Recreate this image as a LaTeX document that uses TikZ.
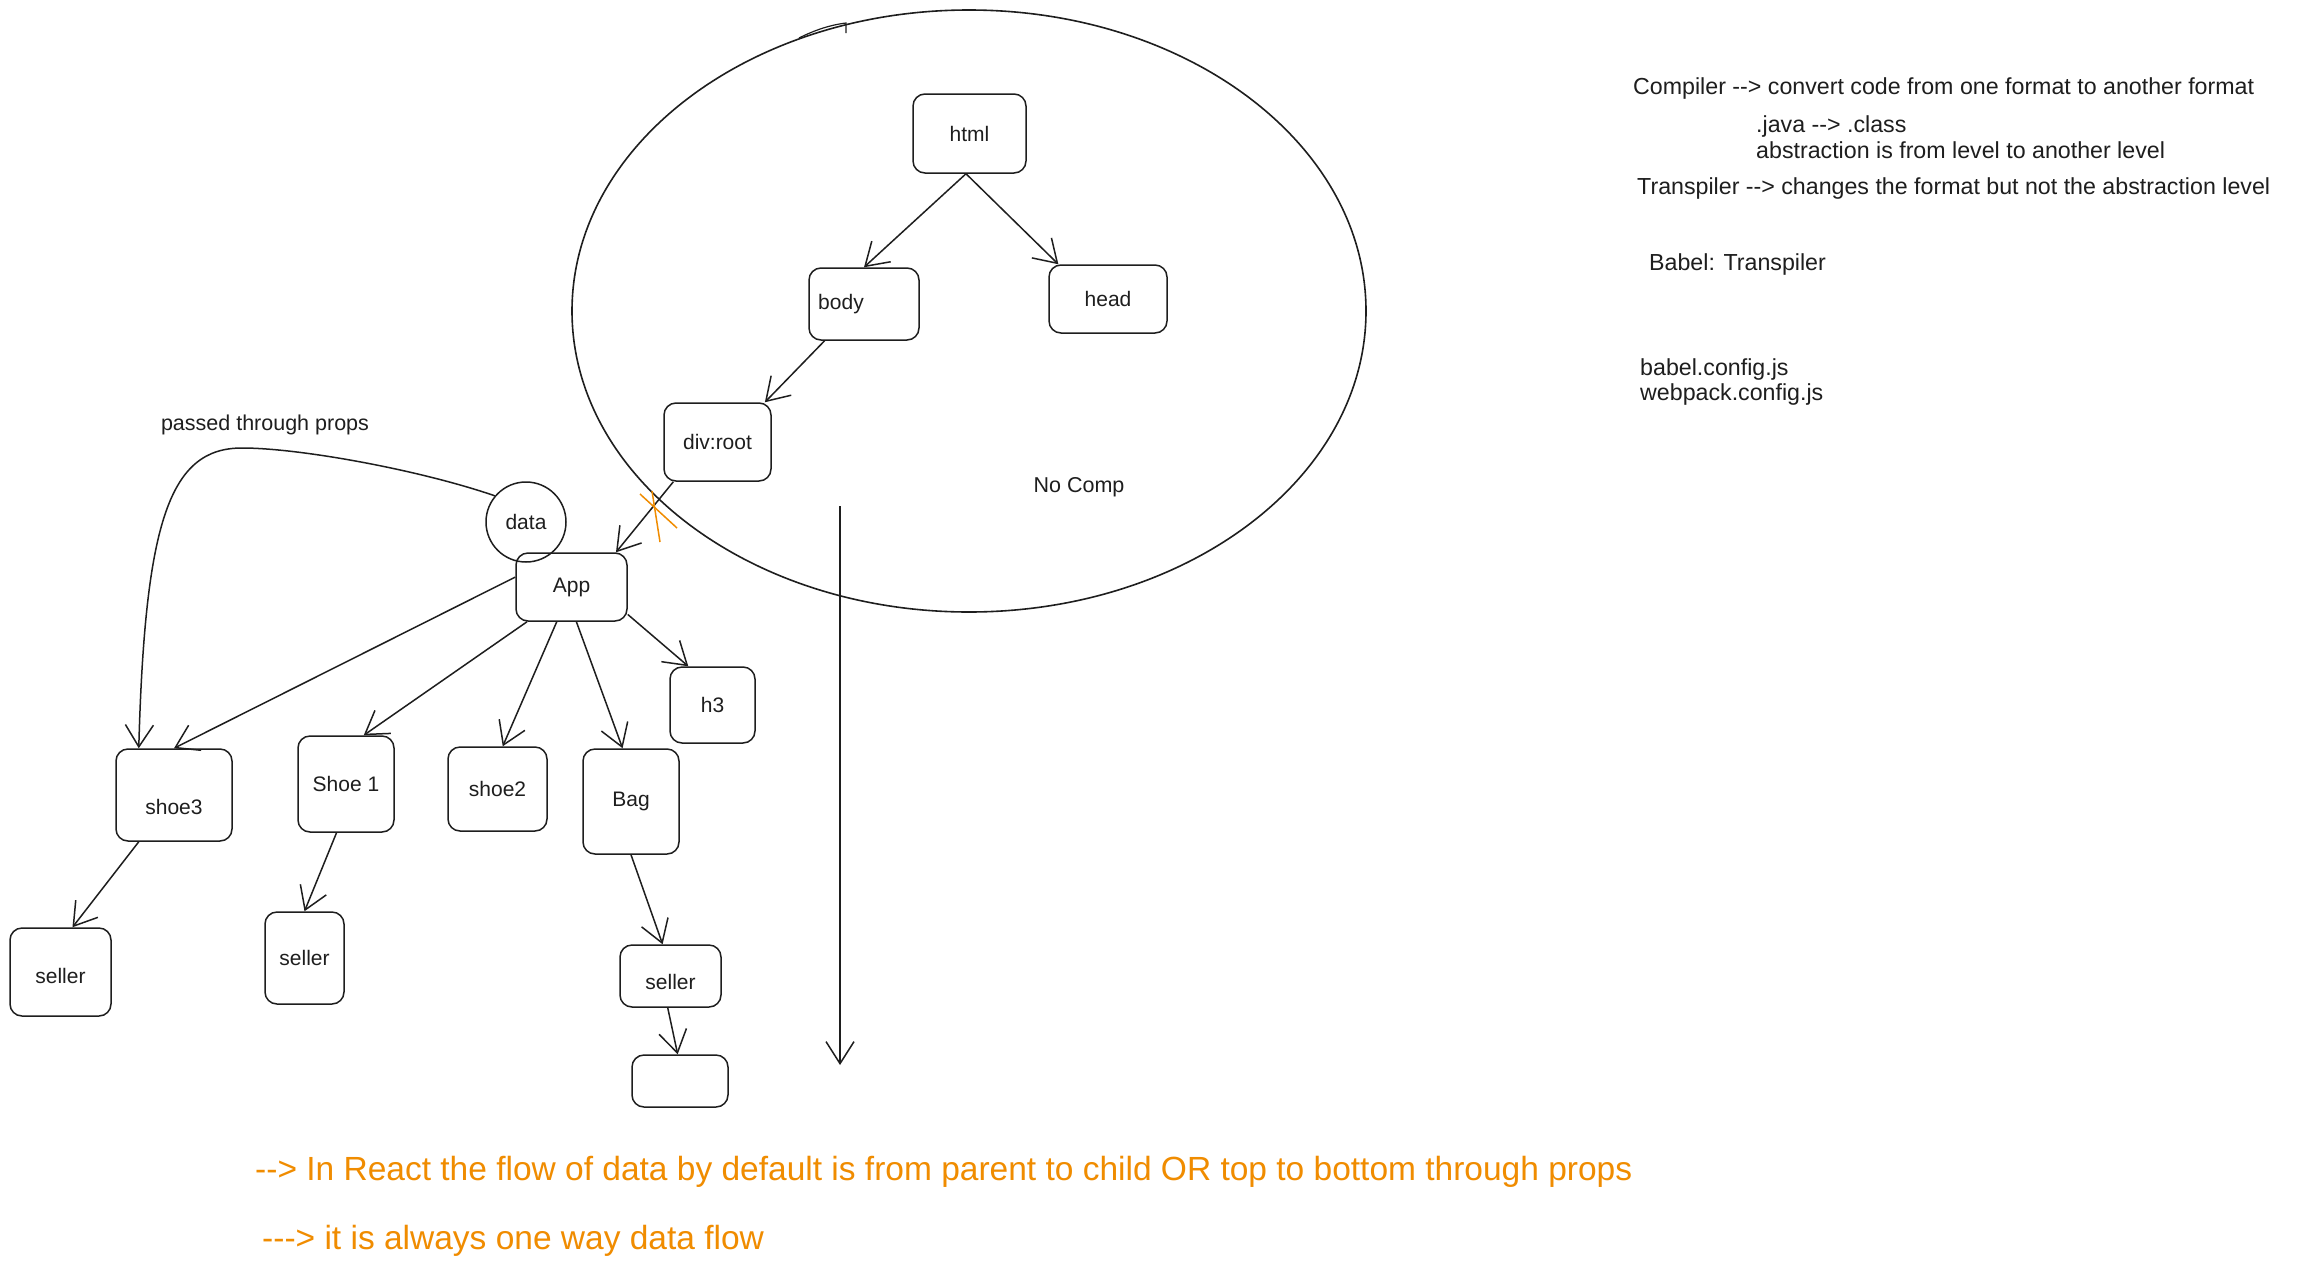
\documentclass[tikz,border=0pt]{standalone}
\usepackage{fontspec}
\setmainfont{Liberation Sans}
\usetikzlibrary{arrows.meta,calc}
\definecolor{ink}{HTML}{1E1E1E}
\definecolor{excorange}{HTML}{F08C00}
\newcommand{\dd}{-{}-{}>}
\newcommand{\ddd}{-{}-{}-{}>}
\begin{document}
\begin{tikzpicture}[x=1pt,y=-1pt,
 box/.style={draw=ink,line width=1.5pt,rounded corners=12pt,font=\fontsize{21}{25}\selectfont,text=ink,inner sep=0pt},
 ring/.style={draw=ink,line width=1.5pt,circle,font=\fontsize{21}{25}\selectfont,text=ink,inner sep=0pt},
 arr/.style={draw=ink,line width=1.5pt,-{Straight Barb[length=22pt,width=28pt,line width=1.5pt]}},
 note/.style={anchor=west,inner sep=0pt,text=ink,font=\fontsize{23.2}{27}\selectfont},
 lbl/.style={inner sep=0pt,text=ink,font=\fontsize{21.5}{25}\selectfont},
 flow/.style={anchor=west,inner sep=0pt,text=excorange,font=\fontsize{33.5}{38}\selectfont},
 cross/.style={draw=excorange,line width=1.5pt}]
\fill[white] (0,0) rectangle (2298,1269);
\useasboundingbox (0,0) rectangle (2298,1269);

% big ellipse
\draw[ink,line width=1.6pt] (969,311) ellipse [x radius=397pt, y radius=301pt];
\draw[ink,line width=1.2pt] (799,38) .. controls (815,30) and (830,25) .. (846,23) -- (846,33);

% nodes
\node[box,minimum width=113pt,minimum height=79pt] (html) at (969.5,133.5) {html};
\node[box,minimum width=110pt,minimum height=72pt] (body) at (864,304) {\hspace*{-46pt}body};
\node[box,minimum width=118pt,minimum height=68pt] (head) at (1108,299) {head};
\node[box,minimum width=107pt,minimum height=78pt] (divroot) at (717.5,442) {div:root};
\node[box,minimum width=111pt,minimum height=68pt] (app) at (571.5,587) {App};
\node[ring,minimum size=80pt] (data) at (526,522) {data};
\node[box,minimum width=85pt,minimum height=76pt] (h3) at (712.5,705) {h3};
\node[box,minimum width=116pt,minimum height=92pt] (shoe3) at (174,795) {\raisebox{-12pt}[\height][\depth]{shoe3}};
\node[box,minimum width=96pt,minimum height=96pt] (shoe1) at (346,784) {Shoe 1};
\node[box,minimum width=99pt,minimum height=84pt] (shoe2) at (497.5,789) {shoe2};
\node[box,minimum width=96pt,minimum height=105pt] (bag) at (631,801.5) {Bag};
\node[box,minimum width=101pt,minimum height=88pt] (sellerA) at (60.5,972) {\raisebox{-4pt}[\height][\depth]{seller}};
\node[box,minimum width=79pt,minimum height=92pt] (sellerB) at (304.5,958) {seller};
\node[box,minimum width=101pt,minimum height=62pt] (sellerC) at (670.5,976) {\raisebox{-6pt}[\height][\depth]{seller}};
\node[box,minimum width=96pt,minimum height=52pt] (empty) at (680,1081) {};

% labels
\node[lbl] (passed) at (265,425) {passed through props};
\node[lbl] (nocomp) at (1079,487) {No Comp};

% connectors
\draw[arr] (html.265) -- (body.north);
\draw[arr] (html.265) -- (head.145);
\draw[arr] (body.223) -- (divroot.40);
\draw[arr] (divroot.222) -- (app.38);
\draw[arr] (app.170) -- (shoe3.north);
\draw[arr] (app.218) -- (shoe1.70);
\draw[arr] (app.247) -- (shoe2.83);
\draw[arr] (app.278) -- (bag.99);
\draw[arr] (app.334) -- (h3.122);
\draw[arr] (shoe3.233) -- (sellerA.75);
\draw[arr] (shoe1.259) -- (sellerB.north);
\draw[arr] (bag.south) -- (sellerC.104);
\draw[arr] (sellerC.265) -- (empty.95);
\draw[arr] (data.140) .. controls (420,470) and (300,448) .. (242,448)
  .. controls (170,448) and (145,520) .. (shoe3.127);

% orange cross on div:root -> App
\draw[cross] (640,494) -- (677,528);
\draw[cross] (652,491) -- (660,542);

% long vertical arrow
\coordinate (vtop) at (840,506);
\coordinate (vbot) at (840,1065);
\draw[arr] (vtop) -- (vbot);

% notes on the right
\node[note] (n1) at (1633,88) {Compiler \dd{} convert code from one format to another format};
\node[note] (n2) at (1756,126) {.java \dd{} .class};
\node[note] (n3) at (1756,150) {abstraction is from level to another level};
\node[note] (n4) at (1637,188) {Transpiler \dd{} changes the format but not the abstraction level};
\node[note] (n5) at (1649,264) {Babel: Transpiler};
\node[note] (n6) at (1640,369) {babel.config.js};
\node[note] (n7) at (1640,394) {webpack.config.js};

% orange conclusions
\node[flow] (f1) at (255,1172) {\dd{} In React the flow of data by default is from parent to child OR top to bottom through props};
\node[flow] (f2) at (262,1241) {\ddd{} it is always one way data flow};
\end{tikzpicture}
\end{document}
